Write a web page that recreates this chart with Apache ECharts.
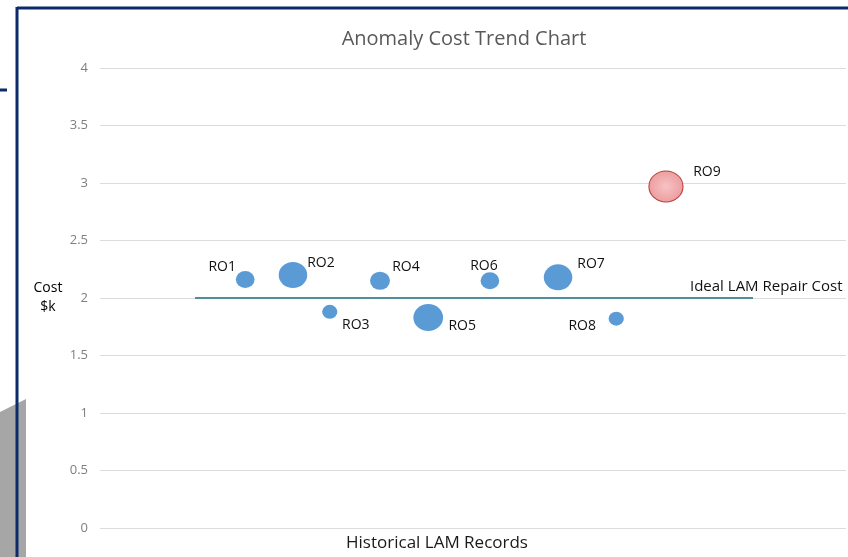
<!DOCTYPE html>
<html>
<head>
<meta charset="utf-8">
<script src="https://cdn.jsdelivr.net/npm/echarts@6/dist/echarts.min.js"></script>
<style>
html,body{margin:0;padding:0;background:#fff;overflow:hidden;}
#chart{width:848px;height:557px;}
</style>
</head>
<body>
<div id="chart"></div>
<script>
// ---- data ----
var recordNames = ['RO1','RO2','RO3','RO4','RO5','RO6','RO7','RO8','RO9'];
var recordX     = [2.92, 3.88, 4.62, 5.63, 6.60, 7.84, 9.21, 10.38, 11.38];
var recordCost  = [2.16, 2.20, 1.88, 2.15, 1.83, 2.15, 2.18, 1.82, 2.97];
var recordSize  = [3.0, 7.0, 2.0, 3.4, 7.6, 3.0, 7.0, 2.0, 10];
var anomalyNames = ['RO9'];
var idealX    = [1.91, 13.13];
var idealCost = [2, 2];
var yTicks = [0, 0.5, 1, 1.5, 2, 2.5, 3, 3.5, 4];

// ---- styling (not data) ----
var labelOffsets = {
  RO1:[-23,-13], RO2:[28,-12], RO3:[26,13], RO4:[26,-14], RO5:[34,8],
  RO6:[-6,-15], RO7:[33,-13], RO8:[-34,7], RO9:[41,-14]
};
var maxSize = Math.max.apply(null, recordSize);
function diam(v){ return 31 * Math.sqrt(v / maxSize); }

var bubbleData = recordNames.map(function(n, i){
  var isAnom = anomalyNames.indexOf(n) >= 0;
  var d = diam(recordSize[i]);
  return {
    name: n,
    value: [recordX[i], recordCost[i], recordSize[i]],
    symbolSize: [d * 1.1, d],
    itemStyle: isAnom ? {
      color: {type:'radial', x:0.5, y:0.5, r:0.6, colorStops:[{offset:0,color:'#f6c3c4'},{offset:1,color:'#ec9597'}]},
      borderColor: '#b5403d', borderWidth: 1, opacity: 1
    } : { color: '#5b9bd5', opacity: 1 },
    label: {
      show: true, formatter: n, position: 'inside',
      offset: labelOffsets[n], color: '#111', fontSize: 14,
      fontFamily: 'Open Sans'
    }
  };
});

var chart = echarts.init(document.getElementById('chart'));
chart.setOption({
  animation: false,
  backgroundColor: '#fff',
  title: {
    text: 'Anomaly Cost Trend Chart',
    left: 459, top: 24, textAlign: 'center',
    textStyle: { color: '#595959', fontSize: 20, fontWeight: 'normal', fontFamily: 'Open Sans' }
  },
  grid: { left: 100, right: 2, top: 68, bottom: 29 },
  xAxis: {
    type: 'value', min: 0, max: 15,
    axisLine: {show:false}, axisTick:{show:false}, axisLabel:{show:false}, splitLine:{show:false},
    name: 'Historical LAM Records', nameLocation: 'middle', nameGap: 7,
    nameTextStyle: { color: '#1a1a1a', fontSize: 17, fontFamily: 'Open Sans', padding: [0, 72, 0, 0] }
  },
  yAxis: {
    type: 'value', min: yTicks[0], max: yTicks[yTicks.length-1], interval: yTicks[1]-yTicks[0],
    axisLine: {show:false}, axisTick:{show:false},
    axisLabel: { color: '#7f7f7f', fontSize: 13, margin: 12, fontFamily: 'Open Sans' },
    splitLine: { lineStyle: { color: '#dcdcdc', width: 1 } },
    name: 'Cost\n$k', nameLocation: 'middle', nameRotate: 0, nameGap: 52,
    nameTextStyle: { color: '#000', fontSize: 14, lineHeight: 19, align: 'center', fontFamily: 'Open Sans' }
  },
  series: [
    {
      type: 'line', name: 'Ideal LAM Repair Cost',
      data: idealX.map(function(x, i){ return [x, idealCost[i]]; }),
      symbol: 'none', lineStyle: { color: '#4f8f9a', width: 2 },
      label: { show: false },
      endLabel: {
        show: true, formatter: 'Ideal LAM Repair Cost', color: '#111', fontSize: 15,
        fontFamily: 'Open Sans', offset: [-63, -11], distance: 0
      },
      z: 1
    },
    {
      type: 'scatter', name: 'Records', data: bubbleData, z: 3
    }
  ],
  graphic: [
    { type: 'polygon', shape: { points: [[0,412],[26,399],[26,557],[0,557]] }, style: { fill: '#a6a6a6' }, z: 100 },
    { type: 'line', shape: { x1: 17, y1: 8, x2: 848, y2: 8 }, style: { stroke: '#0d2a6b', lineWidth: 3 }, z: 101 },
    { type: 'line', shape: { x1: 17, y1: 7, x2: 17, y2: 557 }, style: { stroke: '#0d2a6b', lineWidth: 3 }, z: 101 },
    { type: 'line', shape: { x1: 0, y1: 90, x2: 7, y2: 90 }, style: { stroke: '#0d2a6b', lineWidth: 3 }, z: 101 }
  ]
});
</script>
</body>
</html>
